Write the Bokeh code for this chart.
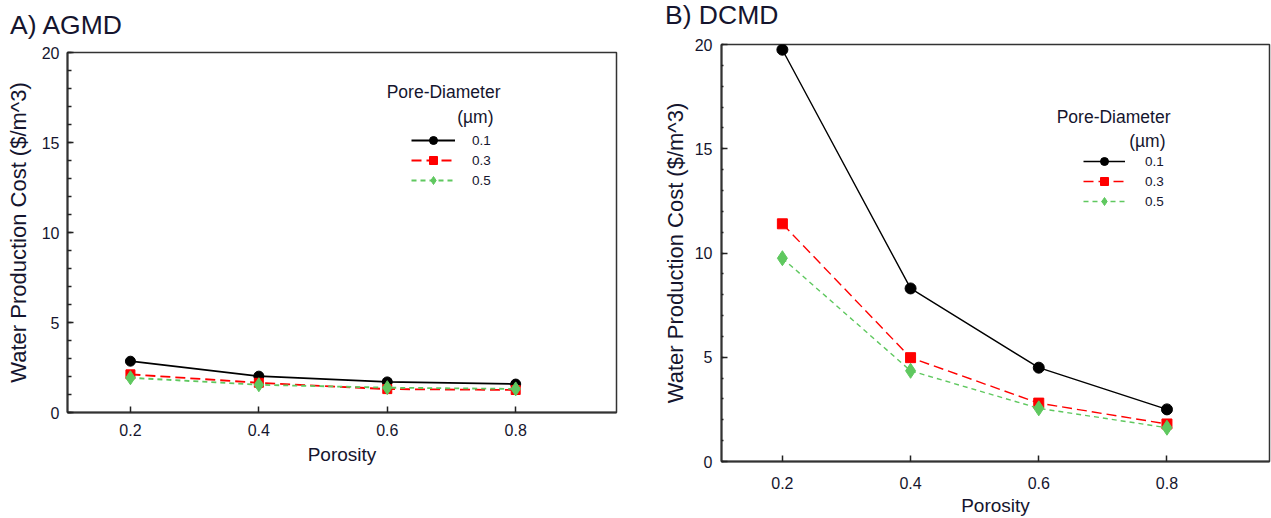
from bokeh.plotting import figure
from bokeh.models import Range1d, FixedTicker, SingleIntervalTicker, Legend, LegendItem, Label, Div
from bokeh.embed import file_html
from bokeh.resources import INLINE

# ---------------- data ----------------
porosity = [0.2, 0.4, 0.6, 0.8]
x_ticks = [0.2, 0.4, 0.6, 0.8]
pore_diameters = ["0.1", "0.3", "0.5"]

agmd_d01 = [2.85, 2.02, 1.70, 1.58]
agmd_d03 = [2.12, 1.65, 1.30, 1.25]
agmd_d05 = [1.93, 1.54, 1.38, 1.31]

dcmd_d01 = [19.75, 8.30, 4.50, 2.50]
dcmd_d03 = [11.40, 4.98, 2.80, 1.80]
dcmd_d05 = [9.75, 4.35, 2.55, 1.62]

panel_titles = ["A) AGMD", "B) DCMD"]
x_label = "Porosity"
y_label = "Water Production Cost ($/m^3)"
legend_title_1 = "Pore-Diameter"
legend_title_2 = "(\u00b5m)"

FONT = "Liberation Sans"
TXT = "#15152e"
COLORS = ["#000000", "#ff0000", "#5fc85f"]
DASHES = ["solid", "10 5", "5 4"]
MARKERS = ["circle", "square", "diamond"]


def make_panel(series, xr, width, height, mbl, mbr, mbt, mbb, left_px,
               legend_loc, glyph_w, label_standoff, t1_xy, t2_xy, msizes,
               tick_minor_in, xl_standoff, xa_standoff, yl_standoff, ya_standoff, lw):
    p = figure(width=width, height=height, output_backend="svg", toolbar_location=None,
               x_range=Range1d(*xr), y_range=Range1d(0, 20),
               min_border_left=mbl, min_border_right=mbr, min_border_top=mbt,
               min_border_bottom=mbb, background_fill_color="white",
               border_fill_color="white")
    p.styles = {"position": "absolute", "left": f"{left_px}px", "top": "0px"}
    p.xgrid.visible = False
    p.ygrid.visible = False
    p.outline_line_color = "#333333"
    p.outline_line_width = 1.5

    p.xaxis.ticker = FixedTicker(ticks=x_ticks)
    p.yaxis.ticker = SingleIntervalTicker(interval=5, num_minor_ticks=5)
    for ax in (p.xaxis[0], p.yaxis[0]):
        ax.major_tick_in = 6
        ax.major_tick_out = 0
        ax.major_tick_line_color = "#222222"
        ax.major_tick_line_width = 1.5
        ax.axis_line_width = 2
        ax.axis_line_color = "#333333"
        ax.major_label_text_font = FONT
        ax.major_label_text_font_size = "16px"
        ax.major_label_text_color = TXT
        ax.axis_label_text_font = FONT
        ax.axis_label_text_font_style = "normal"
        ax.axis_label_text_color = TXT
    p.xaxis.minor_tick_line_color = None
    p.yaxis.minor_tick_in = tick_minor_in
    p.yaxis.minor_tick_out = 0
    p.yaxis.minor_tick_line_color = "#222222"
    p.yaxis.minor_tick_line_width = 1.5
    p.xaxis.axis_label = x_label
    p.yaxis.axis_label = y_label
    p.xaxis.axis_label_text_font_size = "19px"
    p.yaxis.axis_label_text_font_size = "22px"
    p.xaxis.major_label_standoff = xl_standoff
    p.xaxis.axis_label_standoff = xa_standoff
    p.yaxis.major_label_standoff = yl_standoff
    p.yaxis.axis_label_standoff = ya_standoff

    items = []
    for i, ys in enumerate(series):
        ln = p.line(porosity, ys, line_color=COLORS[i], line_width=lw, line_dash=DASHES[i])
        mk = p.scatter(porosity, ys, marker=MARKERS[i], size=msizes[i],
                       fill_color=COLORS[i], line_color=COLORS[i])
        items.append(LegendItem(label=pore_diameters[i], renderers=[ln, mk]))

    leg = Legend(items=items, location=legend_loc, orientation="vertical",
                 glyph_width=glyph_w, glyph_height=20, label_height=20, spacing=0,
                 padding=0, margin=0, label_standoff=label_standoff,
                 label_text_font=FONT, label_text_font_size="13.5px", label_text_color=TXT,
                 background_fill_alpha=0, border_line_color=None)
    p.add_layout(leg, "center")

    for (tx, ty), txt in ((t1_xy, legend_title_1), (t2_xy, legend_title_2)):
        p.add_layout(Label(x=tx, y=ty, text=txt, text_align="right", text_baseline="middle",
                           text_font=FONT, text_font_size="17.5px", text_color=TXT))
    return p


def make_title(text, left_px, top_px):
    style = (f"font-family:'{FONT}';font-size:26.5px;line-height:1;color:{TXT};"
             "white-space:nowrap;margin:0;padding:0")
    return Div(text=f'<span style="{style}">{text}</span>', width=160, height=32, margin=0,
               styles={"position": "absolute", "left": f"{left_px}px", "top": f"{top_px}px",
                       "font-family": FONT, "font-size": "26.5px", "line-height": "1",
                       "color": TXT})


pa = make_panel([agmd_d01, agmd_d03, agmd_d05], xr=(0.102, 0.957),
                width=640, height=470, mbl=67, mbr=24, mbt=52, mbb=58, left_px=0,
                legend_loc=(344, 222), glyph_w=44, label_standoff=17,
                t1_xy=(0.7763, 17.78), t2_xy=(0.7654, 16.44),
                msizes=[10, 9, 14], tick_minor_in=4,
                xl_standoff=11, xa_standoff=5, yl_standoff=8, ya_standoff=8, lw=1.8)

pb = make_panel([dcmd_d01, dcmd_d03, dcmd_d05], xr=(0.105, 0.96),
                width=631, height=518, mbl=81, mbr=2, mbt=44, mbb=55, left_px=640,
                legend_loc=(362, 250), glyph_w=42, label_standoff=20,
                t1_xy=(0.8055, 16.52), t2_xy=(0.7977, 15.37),
                msizes=[11, 10, 15], tick_minor_in=2,
                xl_standoff=15, xa_standoff=3, yl_standoff=9, ya_standoff=4, lw=1.4)

ta = make_title(panel_titles[0], 10, 12)
tb = make_title(panel_titles[1], 665, 2)

open("out.html", "w").write(file_html([pa, pb, ta, tb], INLINE))
